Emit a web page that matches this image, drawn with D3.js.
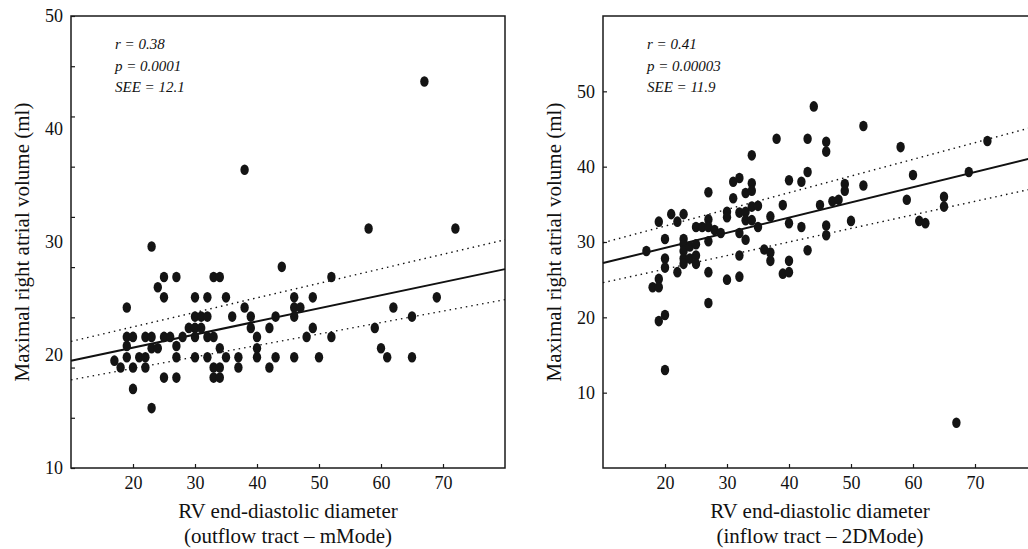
<!DOCTYPE html>
<html>
<head>
<meta charset="utf-8">
<script src="https://cdn.jsdelivr.net/npm/d3@7"></script>
<style>
	body { margin: 0; background: #fff; }
	text { font-family: "Liberation Serif", "Times New Roman", "DejaVu Serif", serif; fill: #111; }
	.stats text { font-style: italic; font-size: 15px; }
</style>
</head>
<body>
<svg id="chart" width="1028" height="549"></svg>
<script>
var xTicks = [20, 30, 40, 50, 60, 70];
var yTicks = [10, 20, 30, 40, 50];
var xTitle = "RV end-diastolic diameter";
var yTitle = "Maximal right atrial volume (ml)";
var fitX = [10, 80];

// outflow tract - mMode
var outflowDiameter = [17, 18, 19, 19, 19, 19, 20, 20, 20, 21, 22, 22, 22, 23, 23, 23, 23, 24, 24,
	25, 25, 25, 25, 26, 27, 27, 27, 27, 28, 29, 30, 30, 30, 30, 30, 31, 31, 32, 32, 32, 32,
	33, 33, 33, 33, 34, 34, 34, 34, 35, 35, 36, 37, 37, 38, 38, 39, 39, 40, 40, 40, 42, 42,
	43, 43, 44, 46, 46, 46, 46, 47, 48, 49, 49, 50, 52, 52, 58, 59, 60, 61, 62, 65, 65, 67, 69, 72];
var outflowVolume = [19.5, 18.9, 24.2, 21.6, 20.8, 19.8, 21.6, 18.9, 17.0, 19.8, 21.6, 19.8, 18.9, 29.6, 21.6, 20.6, 15.3, 26.0, 20.6,
	26.9, 25.1, 21.6, 18.0, 21.6, 26.9, 20.8, 19.8, 18.0, 21.6, 22.4, 25.1, 23.4, 22.4, 21.6, 19.8, 23.4, 22.4, 25.1, 23.4, 21.6, 19.8,
	26.9, 21.6, 18.9, 18.0, 26.9, 20.6, 18.9, 18.0, 25.1, 19.8, 23.4, 19.8, 18.9, 36.4, 24.2, 23.4, 22.4, 21.6, 20.6, 19.8, 22.4, 18.9,
	23.4, 19.8, 27.8, 25.1, 24.2, 23.4, 19.8, 24.2, 21.6, 25.1, 22.4, 19.8, 26.9, 21.6, 31.2, 22.4, 20.6, 19.8, 24.2, 23.4, 19.8, 44.2, 25.1, 31.2];
var outflowFit = [19.5, 27.6];
var outflowUpper = [21.2, 30.2];
var outflowLower = [17.8, 24.9];
var outflowStats = ["r = 0.38", "p = 0.0001", "SEE = 12.1"];
var outflowYDomain = [10, 50];
var outflowTickMarks = d3.range(10).map(function(i) { return 10 + i * 40 / 9; });

// inflow tract - 2DMode
var inflowDiameter = [17, 18, 19, 19, 19, 19, 20, 20, 20, 20, 20, 21, 22, 22, 23, 23, 23, 23, 23, 23,
	24, 24, 25, 25, 25, 25, 26, 27, 27, 27, 27, 27, 27, 28, 29, 30, 30, 30, 31, 31,
	32, 32, 32, 32, 32, 33, 33, 33, 33, 34, 34, 34, 34, 34, 35, 35, 36, 37, 37, 37, 38,
	39, 39, 40, 40, 40, 40, 42, 42, 43, 43, 43, 44, 45, 46, 46, 46, 46, 47, 48, 49, 49,
	50, 52, 52, 58, 59, 60, 61, 62, 65, 65, 67, 69, 72];
var inflowVolume = [28.8, 24.0, 32.7, 25.1, 24.0, 19.5, 30.4, 27.8, 26.6, 20.3, 13.0, 33.7, 32.7, 26.0, 33.7, 30.4, 29.7, 28.8, 27.8, 27.1,
	29.4, 27.8, 32.0, 29.7, 28.2, 27.1, 32.0, 36.6, 33.0, 32.0, 30.1, 26.0, 21.9, 31.6, 31.2, 34.0, 33.3, 25.0, 38.0, 35.8,
	38.5, 33.9, 31.2, 28.2, 25.4, 36.5, 34.0, 32.9, 30.3, 41.5, 37.8, 36.8, 34.7, 32.9, 34.8, 32.0, 29.0, 33.4, 28.6, 27.5, 43.7,
	34.9, 25.8, 38.2, 32.5, 27.5, 26.0, 38.0, 32.0, 43.7, 39.3, 28.9, 48.0, 34.9, 43.3, 42.0, 32.2, 30.9, 35.4, 35.6, 37.7, 36.8,
	32.8, 45.4, 37.5, 42.6, 35.6, 38.9, 32.8, 32.5, 36.0, 34.7, 6.0, 39.3, 43.4];
var inflowFit = [27.2, 41.3];
var inflowUpper = [29.9, 45.4];
var inflowLower = [24.6, 37.2];
var inflowStats = ["r = 0.41", "p = 0.00003", "SEE = 11.9"];
var inflowYDomain = [0, 60];

function scatterPanel() {
	var left = 0,
		top = 16,
		width = 434,
		height = 452,
		yDomain = [0, 60],
		tickMarks = yTicks,
		subtitle = "";

		function sp(selection) {
			selection.each(function(d) {
				var g = d3.select(this)
						.append("g")
						.attr("transform", "translate(" + left + "," + top + ")");

				var x = d3.scaleLinear().domain([10, 80]).range([0, width]);
				var y = d3.scaleLinear().domain(yDomain).range([height, 0]);

				// inward tick marks
				g.append("g")
					.attr("transform", "translate(0," + height + ")")
					.call(d3.axisBottom(x).tickValues(xTicks).tickSizeInner(-4).tickSizeOuter(0).tickPadding(8))
					.call(styleAxis);

				g.append("g")
					.call(d3.axisLeft(y).tickValues(tickMarks).tickSizeInner(-4).tickSizeOuter(0).tickFormat(""))
					.call(styleAxis);

				g.append("g")
					.call(d3.axisLeft(y).tickValues(yTicks).tickSize(0).tickPadding(8))
					.call(styleAxis);

				g.append("rect")
					.attr("width", width)
					.attr("height", height)
					.attr("fill", "none")
					.attr("stroke", "#1a1a1a")
					.attr("stroke-width", 1.5);

				var line = d3.line()
					.x(function(p) { return x(p[0]); })
					.y(function(p) { return y(p[1]); });

				[[d.upper, "1.5,4"], [d.lower, "1.5,4"], [d.fit, null]].forEach(function(l) {
					g.append("path")
						.attr("d", line(d3.zip(fitX, l[0])))
						.attr("fill", "none")
						.attr("stroke", "#111")
						.attr("stroke-width", l[1] ? 1.4 : 2)
						.attr("stroke-dasharray", l[1]);
				});

				g.append("g")
					.selectAll("ellipse")
					.data(d3.zip(d.xs, d.ys))
					.join("ellipse")
						.attr("cx", function(p) { return x(p[0]); })
						.attr("cy", function(p) { return y(p[1]); })
						.attr("rx", 4.2)
						.attr("ry", 5.3)
						.attr("fill", "#141414");

				g.append("g")
					.attr("class", "stats")
					.selectAll("text")
					.data(d.stats)
					.join("text")
						.attr("x", 44)
						.attr("y", function(s, i) { return 33 + i * 21.5; })
						.text(function(s) { return s; });

				g.append("text")
					.attr("transform", "translate(-42," + (height / 2) + ") rotate(-90)")
					.attr("text-anchor", "middle")
					.style("font-size", "21px")
					.text(yTitle);

				g.append("text")
					.attr("x", width / 2)
					.attr("y", height + 50)
					.attr("text-anchor", "middle")
					.style("font-size", "21px")
					.text(xTitle);

				g.append("text")
					.attr("x", width / 2)
					.attr("y", height + 75)
					.attr("text-anchor", "middle")
					.style("font-size", "21px")
					.text(subtitle);
			});
		};

		function styleAxis(a) {
			a.select(".domain").remove();
			a.selectAll("line").attr("stroke", "#1a1a1a").attr("stroke-width", 1.2);
			a.selectAll("text")
				.style("font-size", "18px")
				.style("font-family", "'Liberation Serif', 'Times New Roman', serif")
				.attr("fill", "#111");
		}

		sp.left = function(value) {
			if (!arguments.length) return left;
			left = value;
			return sp;
		};

		sp.yDomain = function(value) {
			if (!arguments.length) return yDomain;
			yDomain = value;
			return sp;
		};

		sp.tickMarks = function(value) {
			if (!arguments.length) return tickMarks;
			tickMarks = value;
			return sp;
		};

		sp.subtitle = function(value) {
			if (!arguments.length) return subtitle;
			subtitle = value;
			return sp;
		};

		return sp;
};

var svg = d3.select("#chart");

svg.append("g")
	.datum({xs: outflowDiameter, ys: outflowVolume, fit: outflowFit, upper: outflowUpper, lower: outflowLower, stats: outflowStats})
	.call(scatterPanel().left(71).yDomain(outflowYDomain).tickMarks(outflowTickMarks).subtitle("(outflow tract \u2013 mMode)"));

svg.append("g")
	.datum({xs: inflowDiameter, ys: inflowVolume, fit: inflowFit, upper: inflowUpper, lower: inflowLower, stats: inflowStats})
	.call(scatterPanel().left(603).yDomain(inflowYDomain).tickMarks(yTicks).subtitle("(inflow tract \u2013 2DMode)"));
</script>
</body>
</html>
